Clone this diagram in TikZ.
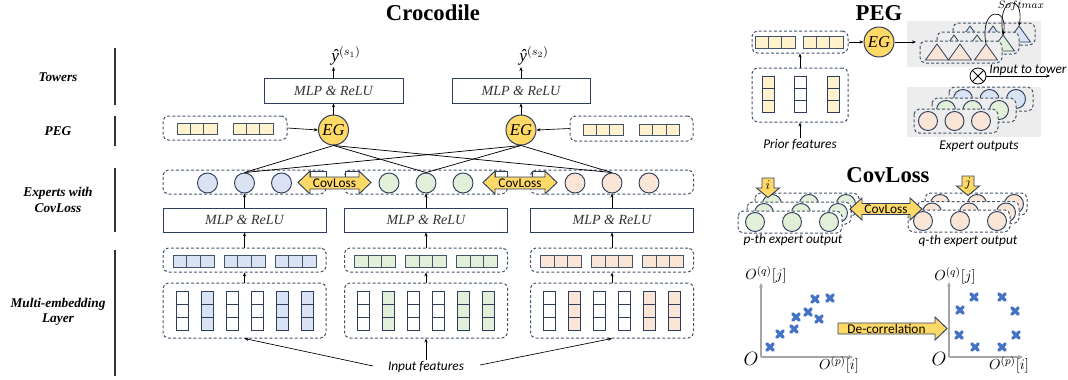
\documentclass[tikz,border=0pt]{standalone}
\usepackage{fontspec}
\setmainfont{Liberation Serif}
\newfontfamily\calfont{Carlito}
\usetikzlibrary{arrows.meta,fit}
\definecolor{navy}{HTML}{2F3E5C}
\definecolor{dashc}{HTML}{44546A}
\definecolor{cblue}{HTML}{DAE3F3}
\definecolor{cgreen}{HTML}{E2F0D9}
\definecolor{cpeach}{HTML}{FBE5D6}
\definecolor{cyel}{HTML}{FFF2CC}
\definecolor{gold}{HTML}{FFD966}
\definecolor{panel}{HTML}{EDEDED}
\definecolor{xblue}{HTML}{4472C4}
\definecolor{axg}{HTML}{A6A6A6}
\newcommand\pu{*0.75pt}
\tikzset{
 dbox/.style={draw=dashc, line width=0.75pt, dash pattern=on 2.2pt off 1.6pt, rounded corners=4pt, inner sep=0pt},
 cellst/.style={draw=dashc, line width=0.6pt},
 colst/.style={draw=navy, line width=0.75pt},
 mlp/.style={draw=navy, line width=0.6pt, fill=white, text=black!80, font=\itshape\fontsize{10.5}{12}\selectfont, inner sep=0pt},
 egst/.style={circle, draw=navy, fill=gold, line width=0.75pt, minimum size=22.5pt, inner sep=0pt, font=\itshape\fontsize{12.5}{14}\selectfont},
 expc/.style={circle, draw=navy, line width=0.7pt, minimum size=15pt, inner sep=0pt},
 arr/.style={-{Stealth[length=3pt,width=2.4pt]}, line width=0.5pt, black},
 ln/.style={line width=0.55pt, black},
 goldarr/.style={draw=navy, fill=gold, line width=0.7pt, line join=miter},
 lab/.style={font=\bfseries\itshape\fontsize{10}{11.5}\selectfont, align=center},
 ttl/.style={font=\bfseries\fontsize{17}{20}\selectfont},
 sans/.style={font=\calfont\itshape\fontsize{10}{12}\selectfont, inner sep=1pt},
 sansr/.style={font=\calfont\fontsize{10}{12}\selectfont, inner sep=0pt},
 sepl/.style={draw=black!80, line width=0.8pt},
 axl/.style={draw=axg, line width=1.3pt, -{Stealth[length=3.5pt,width=3pt]}},
 xm/.style={draw=xblue, line width=2.4pt, line cap=round},
}
\newcommand\hvec[5]{\foreach \kk in {0,1,2}{\draw[cellst,fill=#3] ({#1+\kk*#4},#2) rectangle ++(#4,#5);}}
\newcommand\vcol[5]{\foreach \kk in {0,1,2}{\draw[colst,fill=#3] ({#1-#4/2},{#2+\kk*#5}) rectangle ++(#4,#5);}}
\newcommand\tribox[3]{%
 \draw[dbox, fill=panel] (#1,#2) rectangle ++(82,22);
 \foreach \oo in {17,40,66}{\draw[navy, line width=0.6pt, fill=#3] ({#1+\oo-11.5},{#2+19}) -- ({#1+\oo},{#2+3}) -- ({#1+\oo+11.5},{#2+19}) -- cycle;}}
\newcommand\cirbox[8]{%
 \draw[dbox, fill=#8] (#1,#2) rectangle ++(#3,#4);
 \foreach \oo in {0,1,2}{\draw[navy, line width=0.7pt, fill=#7] ({#1+#5+\oo*#6},{#2+#4/2}) circle[radius=9.5];}}
\newcommand\xmk[2]{\draw[xm] ({#1-3.2},{#2-3.2}) -- ({#1+3.2},{#2+3.2}) ({#1-3.2},{#2+3.2}) -- ({#1+3.2},{#2-3.2});}
\begin{document}
\begin{tikzpicture}[x=0.75pt,y=-0.75pt]
\useasboundingbox (0,0) rectangle (1068,379);
% ---------- left labels ----------
\node[lab] (lt) at (58,77) {Towers};
\node[lab] (lp) at (58,131) {PEG};
\node[lab] (le) at (58,200) {Experts with\\CovLoss};
\node[lab] (lm) at (58,312) {Multi-embedding\\Layer};
\draw[sepl] (115,48) -- (115,105);
\draw[sepl] (115,116) -- (115,146);
\draw[sepl] (115,168) -- (115,232);
\draw[sepl] (115,250) -- (115,376);
\node[ttl] (t1) at (433,13) {Crocodile};
% ---------- towers ----------
\node[mlp, minimum width=139\pu, minimum height=25\pu] (tm1) at (333.5,90.5) {MLP \& ReLU};
\node[mlp, minimum width=138\pu, minimum height=25\pu] (tm2) at (521,90.5) {MLP \& ReLU};
\node[egst] (eg1) at (333.5,130) {EG};
\node[egst] (eg2) at (521,130) {EG};
\coordinate (o1) at (333.5,67);
\coordinate (o2) at (521,67);
\draw[arr] (eg1.north) -- (tm1.south);
\draw[arr] (eg2.north) -- (tm2.south);
\draw[arr] (tm1.north) -- (o1);
\draw[arr] (tm2.north) -- (o2);
\node[font=\fontsize{13}{15}\selectfont, inner sep=0pt] (y1) at (346,56) {\textit{ŷ}$^{(s_1)}$};
\node[font=\fontsize{13}{15}\selectfont, inner sep=0pt] (y2) at (534,56) {\textit{ŷ}$^{(s_2)}$};
% ---------- PEG row ----------
\node[dbox, fit={(163,116) (287,140)}] (pb1) {};
\hvec{177}{123}{cyel}{13.33}{11}
\hvec{233}{123}{cyel}{13.33}{11}
\node[dbox, fit={(570,116) (693,141)}] (pb2) {};
\hvec{583}{124}{cyel}{13.33}{11}
\hvec{639.5}{124}{cyel}{13.33}{11}
\draw[arr] (pb1.east) -- (eg1.west);
\draw[arr] (pb2.west) -- (eg2.east);
% ---------- groups ----------
\foreach \gx/\gc/\n in {244.5/cblue/1,426/cgreen/2,612/cpeach/3}{
  \node[dbox, fit={({\gx-81.5},283) ({\gx+81.5},338)}] (mb\n) {};
  \foreach \jj in {1,3,4}{\vcol{\gx+(\jj-3.5)*25}{291}{white}{12}{13}}
  \foreach \jj in {2,5,6}{\vcol{\gx+(\jj-3.5)*25}{291}{\gc}{12}{13}}
  \node[dbox, fit={({\gx-81.5},248) ({\gx+81.5},272)}] (eb\n) {};
  \foreach \oo in {-71.5,-20.5,30.5}{\hvec{\gx+\oo}{255}{\gc}{13.67}{12}}
  \node[mlp, minimum width=163\pu, minimum height=24\pu] (em\n) at (\gx,220) {MLP \& ReLU};
  \node[dbox, fit={({\gx-81.5},170) ({\gx+81.5},194)}] (ex\n) {};
  \node[expc, fill=\gc] (k\n1) at ({\gx-37},183) {};
  \node[expc, fill=\gc] (k\n2) at (\gx,183) {};
  \node[expc, fill=\gc] (k\n3) at ({\gx+37},183) {};
  \draw[arr] (mb\n.north) -- (eb\n.south);
  \draw[arr] (eb\n.north) -- (em\n.south);
  \draw[arr] (em\n.north) -- (k\n2.south);
}
\foreach \e in {1,2}{\foreach \mm in {1,2,3}{\draw[ln] (eg\e.south) -- (k\mm2.north);}}
% CovLoss arrows between experts
\draw[navy, fill=white, line width=0.6pt] (310,171) rectangle (326,177);
\draw[navy, fill=white, line width=0.6pt] (345,171) rectangle (359,177);
\draw[navy, fill=white, line width=0.6pt] (495,171) rectangle (507,177);
\draw[navy, fill=white, line width=0.6pt] (532,171) rectangle (545,177);
\draw[goldarr] (298,182.5) -- (310,171) -- (310,177) -- (359,177) -- (359,171) -- (371,182.5) -- (359,194) -- (359,189) -- (310,189) -- (310,194) -- cycle;
\node[sansr] (cl1) at (334.5,183) {CovLoss};
\draw[goldarr] (483,182.5) -- (495,171) -- (495,177) -- (545,177) -- (545,171) -- (557,182.5) -- (545,194) -- (545,189) -- (495,189) -- (495,194) -- cycle;
\node[sansr] (cl2) at (520,183) {CovLoss};
% input features
\node[sans] (inp) at (426,367) {Input features};
\coordinate (inl) at (373,366);
\coordinate (inr) at (480,365);
\draw[arr] (inl) -- (mb1.south);
\draw[arr] (inp.north) -- (mb2.south);
\draw[arr] (inr) -- (mb3.south);
% ---------- right: PEG ----------
\node[ttl] (t2) at (879,13) {PEG};
\node[dbox, fit={(752,31) (848,53)}] (pvb) {};
\hvec{755}{36}{cyel}{13.33}{12}
\hvec{803}{36}{cyel}{13.33}{12}
\node[egst] (eg3) at (879,42) {EG};
\draw[arr] (pvb.east) -- (eg3.west);
\node[dbox, fit={(752,68) (848,122)}] (pcb) {};
\vcol{768}{76}{cyel}{12}{12.3}
\vcol{800}{76}{white}{12}{12.3}
\vcol{833}{76}{cyel}{12}{12.3}
\draw[arr] (pcb.north) -- (pvb.south);
\node[sans] (pf) at (800,145) {Prior features};
\draw[arr] (pf.north) -- (pcb.south);
\fill[panel] (907,21) rectangle (1041,67);
\fill[panel] (907,87) rectangle (1041,137);
\coordinate (tin) at (916,42);
\draw[arr] (eg3.east) -- (tin);
\tribox{953}{23}{cblue}
\tribox{937}{32}{cgreen}
\tribox{920}{41}{cpeach}
\coordinate (s0) at (986,44);
\coordinate (s1) at (1003,35);
\coordinate (s2) at (1019,26);
\draw[arr] (s0) .. controls (979,6) and (1009,6) .. (s1);
\draw[arr] (s1) .. controls (996,-6) and (1025,-6) .. (s2);
\node[font=\fontsize{8.5}{9}\selectfont, inner sep=0pt] (smx) at (1021,5.5) {$Softmax$};
\node[circle, draw=black, line width=0.6pt, minimum size=12pt, inner sep=0pt] (ot) at (978,76) {};
\draw[line width=0.6pt] (ot.north east) -- (ot.south west) (ot.north west) -- (ot.south east);
\node[sans] (itt) at (1028,70) {Input to tower};
\coordinate (ite) at (1050,76);
\draw[arr] (ot.east) -- (ite);
\cirbox{949}{87}{84}{24}{14}{26.5}{cblue}{panel}
\cirbox{932}{98}{84}{24}{14}{26.5}{cgreen}{panel}
\cirbox{914}{109}{84}{24}{14}{26.5}{cpeach}{panel}
\node[sans] (eo) at (979,146) {Expert outputs};
% ---------- right: CovLoss ----------
\node[ttl] (t3) at (888,175) {CovLoss};
\cirbox{755}{193}{104}{22}{17}{37}{cgreen}{white}
\cirbox{747}{202}{104}{22}{17}{37}{cgreen}{white}
\cirbox{738}{211}{104}{22}{17}{37}{cgreen}{white}
\cirbox{925}{193}{102}{22}{15}{37}{cpeach}{white}
\cirbox{917}{201.5}{102}{22}{15}{37}{cpeach}{white}
\cirbox{908}{210}{102}{22}{15}{37}{cpeach}{white}
\draw[goldarr] (762,178) -- (774,178) -- (774,188) -- (779.5,188) -- (768,197.5) -- (756.5,188) -- (762,188) -- cycle;
\node[font=\fontsize{10}{12}\selectfont, inner sep=0pt] (ii) at (768,185) {$i$};
\draw[goldarr] (962,176) -- (974,176) -- (974,186) -- (979.5,186) -- (968,195.5) -- (956.5,186) -- (962,186) -- cycle;
\node[font=\fontsize{10}{12}\selectfont, inner sep=0pt] (jj) at (968,183.5) {$j$};
\draw[goldarr] (850,209) -- (862,198) -- (862,203.5) -- (910,203.5) -- (910,198) -- (922,209) -- (910,220) -- (910,214.5) -- (862,214.5) -- (862,220) -- cycle;
\node[sansr] (cl3) at (886,209.5) {CovLoss};
\node[sans] (pth) at (793,240) {p-th expert output};
\node[sans] (qth) at (968,241) {q-th expert output};
% ---------- scatter plots ----------
\coordinate (lo) at (761,357);
\coordinate (lyt) at (761,283);
\coordinate (lxe) at (853,357);
\draw[axl] (lo) -- (lyt);
\draw[axl] (lo) -- (lxe);
\node[font=\fontsize{14}{16}\selectfont] (lO) at (751,359) {$O$};
\node[font=\fontsize{11}{13}\selectfont] (lq) at (766,275) {$O^{(q)}[j]$};
\node[font=\fontsize{11}{13}\selectfont] (lpp) at (839,365) {$O^{(p)}[i]$};
\xmk{770}{347}\xmk{780}{334}\xmk{794}{329}\xmk{796}{317}
\xmk{808}{312}\xmk{815}{299}\xmk{819}{319}\xmk{830}{298}
\draw[goldarr] (838,323) -- (935,323) -- (935,317) -- (947,328.5) -- (935,340) -- (935,334) -- (838,334) -- cycle;
\node[sansr] (dc) at (886.5,328.5) {De-correlation};
\coordinate (ro) at (949,357);
\coordinate (ryt) at (949,282);
\coordinate (rxe) at (1023,357);
\draw[axl] (ro) -- (ryt);
\draw[axl] (ro) -- (rxe);
\node[font=\fontsize{14}{16}\selectfont] (rO) at (939,359) {$O$};
\node[font=\fontsize{11}{13}\selectfont] (rq) at (955,276) {$O^{(q)}[j]$};
\node[font=\fontsize{11}{13}\selectfont] (rpp) at (1009,365) {$O^{(p)}[i]$};
\xmk{960}{310}\xmk{974}{297}\xmk{1002}{297}\xmk{1015}{311}
\xmk{959}{335}\xmk{975}{347}\xmk{1002}{347}\xmk{1016}{335}
\end{tikzpicture}
\end{document}
